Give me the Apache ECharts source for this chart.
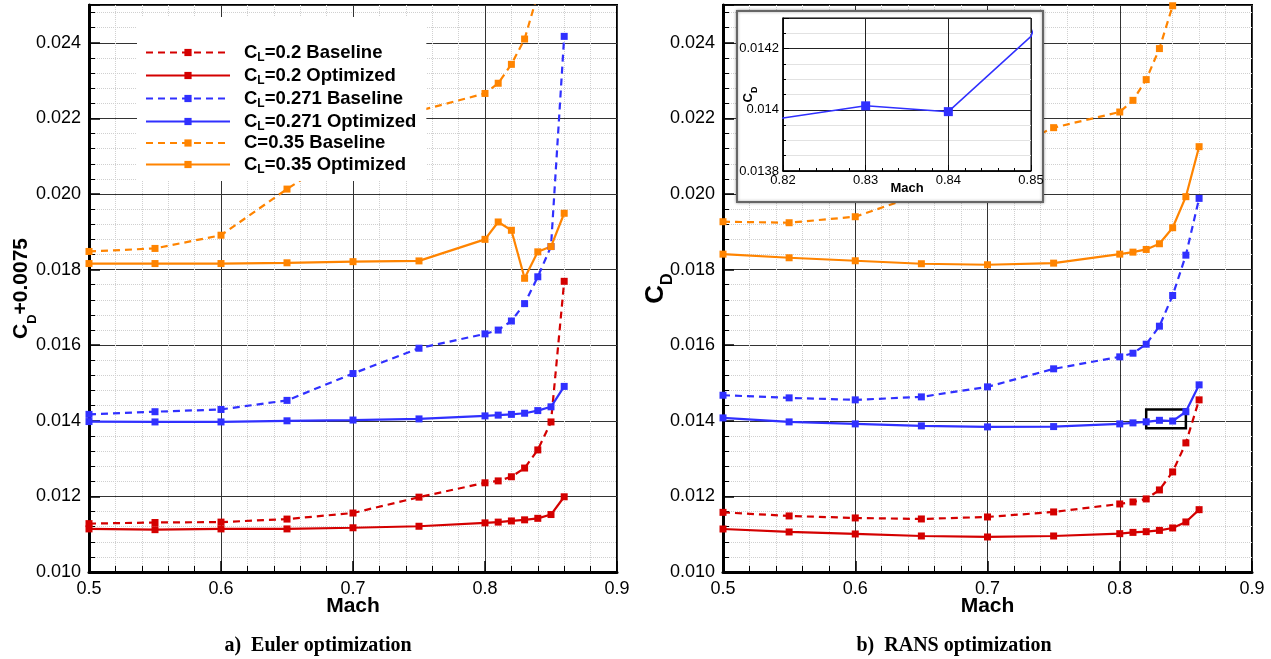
<!DOCTYPE html>
<html>
<head>
<meta charset="utf-8">
<script src="https://cdn.jsdelivr.net/npm/echarts@6/dist/echarts.min.js"></script>
<style>
html, body { margin: 0; padding: 0; background: #fff; }
#chart { width: 1271px; height: 659px; }
</style>
</head>
<body>
<div id="chart"></div>
<script>
// Mach numbers shared by every curve
const mach = [0.5, 0.55, 0.6, 0.65, 0.7, 0.75, 0.8, 0.81, 0.82, 0.83, 0.84, 0.85, 0.86];

// a) Euler optimization (CD + 0.0075)
const eulerCl020Base  = [0.01128, 0.01131, 0.01132, 0.01140, 0.01156, 0.01198, 0.01236, 0.01241, 0.01252, 0.01275, 0.01323, 0.01397, 0.01769];
const eulerCl020Opt   = [0.01114, 0.01112, 0.01114, 0.01114, 0.01117, 0.01121, 0.01130, 0.01132, 0.01135, 0.01138, 0.01142, 0.01152, 0.01199];
const eulerCl0271Base = [0.01417, 0.01424, 0.01430, 0.01454, 0.01525, 0.01592, 0.01630, 0.01640, 0.01664, 0.01710, 0.01781, 0.01861, 0.02417];
const eulerCl0271Opt  = [0.01398, 0.01397, 0.01397, 0.01400, 0.01402, 0.01405, 0.01413, 0.01415, 0.01417, 0.01420, 0.01427, 0.01437, 0.01491];
const eulerCl035Base  = [0.01848, 0.01856, 0.01891, 0.02013, 0.02126, 0.02220, 0.02266, 0.02293, 0.02343, 0.02410, 0.02530, null, null];
const eulerCl035Opt   = [0.01816, 0.01816, 0.01816, 0.01818, 0.01821, 0.01823, 0.01880, 0.01926, 0.01904, 0.01777, 0.01847, 0.01861, 0.01949];

// b) RANS optimization (CD)
const ransCl020Base  = [0.011578, 0.011483, 0.01143, 0.011403, 0.011456, 0.011589, 0.0118, 0.011853, 0.011933, 0.012171, 0.012648, 0.013415, 0.014554];
const ransCl020Opt   = [0.011138, 0.011059, 0.011006, 0.010953, 0.010927, 0.010953, 0.011014, 0.011048, 0.011067, 0.011101, 0.011165, 0.011324, 0.011649];
const ransCl0271Base = [0.014676, 0.014607, 0.014554, 0.014633, 0.014898, 0.015375, 0.015692, 0.015788, 0.016026, 0.016503, 0.017315, 0.018382, 0.019884];
const ransCl0271Opt  = [0.014077, 0.013971, 0.013918, 0.013866, 0.013839, 0.013847, 0.013918, 0.013945, 0.013973, 0.014013, 0.013994, 0.01424, 0.014951];
const ransCl035Base  = [0.019267, 0.01924, 0.019399, 0.0200, 0.02092, 0.021755, 0.022169, 0.022478, 0.023026, 0.023847, 0.02498, null, null];
const ransCl035Opt   = [0.018409, 0.018313, 0.018234, 0.018155, 0.018128, 0.018171, 0.018409, 0.018462, 0.018533, 0.018684, 0.019108, 0.019929, 0.021252];

const seriesNames = ['C_L=0.2 Baseline', 'C_L=0.2 Optimized', 'C_L=0.271 Baseline',
    'C_L=0.271 Optimized', 'C=0.35 Baseline', 'C_L=0.35 Optimized'];

// zoom window shown in the inset
const zoomMach = [0.82, 0.85];
const zoomCd = [0.0138, 0.0143];

const FONT = '"Liberation Sans", Arial, sans-serif';
const RED = '#d40000', BLUE = '#3030ff', ORANGE = '#ff8400';
const seriesColors = [RED, RED, BLUE, BLUE, ORANGE, ORANGE];

function toPairs(vals) {
    return mach.map((m, i) => [m, vals[i]]).filter(p => p[1] != null);
}

function curve(idx, vals, grid) {
    let dashed = idx % 2 === 0;
    return {
        name: seriesNames[idx],
        type: 'line',
        xAxisIndex: grid,
        yAxisIndex: grid,
        data: toPairs(vals),
        symbol: 'rect',
        symbolSize: 7,
        color: seriesColors[idx],
        itemStyle: { color: seriesColors[idx] },
        lineStyle: { width: 2.2, type: dashed ? [7, 5] : 'solid' },
        animation: false,
        z: 2
    };
}

function xMain(gridIndex) {
    return {
        type: 'value', gridIndex: gridIndex,
        min: 0.5, max: 0.9, interval: 0.1,
        name: 'Mach', nameLocation: 'middle', nameGap: 24, nameMoveOverlap: false,
        nameTextStyle: { fontFamily: FONT, fontWeight: 'bold', fontSize: 21, color: '#000' },
        axisLine: { onZero: false, lineStyle: { color: '#000', width: 3 } },
        axisTick: { inside: true, length: 11, lineStyle: { color: '#000', width: 1.5 } },
        minorTick: { show: true, splitNumber: 5, length: 6, lineStyle: { color: '#000', width: 1 } },
        axisLabel: { fontFamily: FONT, fontSize: 18, color: '#000', margin: 8, formatter: v => v.toFixed(1) },
        splitLine: { show: true, lineStyle: { color: '#333', width: 1 } },
        minorSplitLine: { show: true, lineStyle: { color: '#d0d0d0', type: 'dotted', width: 1 } }
    };
}

function yMain(gridIndex, name, fs, subFs, subPad, gap) {
    return {
        type: 'value', gridIndex: gridIndex,
        min: 0.010, max: 0.025, interval: 0.002,
        name: name, nameLocation: 'middle', nameGap: gap, nameMoveOverlap: false,
        nameTextStyle: {
            fontFamily: FONT, fontWeight: 'bold', fontSize: fs, lineHeight: fs + 3, color: '#000',
            rich: { sub: { fontFamily: FONT, fontWeight: 'bold', fontSize: subFs, lineHeight: subFs, padding: [subPad, 0, 0, 0], color: '#000' } }
        },
        axisLine: { onZero: false, lineStyle: { color: '#000', width: 3 } },
        axisTick: { inside: true, length: 11, lineStyle: { color: '#000', width: 1.5 } },
        minorTick: { show: true, splitNumber: 5, length: 6, lineStyle: { color: '#000', width: 1 } },
        axisLabel: { fontFamily: FONT, fontSize: 18, color: '#000', margin: 8, showMaxLabel: false, formatter: v => v.toFixed(3) },
        splitLine: { show: true, lineStyle: { color: '#333', width: 1 } },
        minorSplitLine: { show: true, lineStyle: { color: '#d0d0d0', type: 'dotted', width: 1 } }
    };
}

let chart = echarts.init(document.getElementById('chart'));

let series = [
    curve(0, eulerCl020Base, 0), curve(1, eulerCl020Opt, 0),
    curve(2, eulerCl0271Base, 0), curve(3, eulerCl0271Opt, 0),
    curve(4, eulerCl035Base, 0), curve(5, eulerCl035Opt, 0),
    curve(0, ransCl020Base, 1), curve(1, ransCl020Opt, 1),
    curve(2, ransCl0271Base, 1), curve(3, ransCl0271Opt, 1),
    curve(4, ransCl035Base, 1), curve(5, ransCl035Opt, 1)
];

// box marking the zoomed region on the RANS plot
series[9].markArea = {
    silent: true,
    itemStyle: { color: 'rgba(0,0,0,0)', borderColor: '#000', borderWidth: 2.5 },
    data: [[{ xAxis: zoomMach[0], yAxis: zoomCd[0] }, { xAxis: zoomMach[1], yAxis: zoomCd[1] }]]
};

// inset
series.push({
    name: 'inset',
    type: 'line',
    xAxisIndex: 2, yAxisIndex: 2,
    data: toPairs(ransCl0271Opt),
    symbol: 'rect',
    symbolSize: v => (v[0] > zoomMach[0] + 1e-6 && v[0] < zoomMach[1] - 1e-6) ? 9 : 0,
    color: BLUE,
    itemStyle: { color: BLUE },
    lineStyle: { width: 1.5 },
    animation: false,
    z: 12
});

let option = {
    backgroundColor: '#fff',
    animation: false,
    grid: [
        { left: 89, top: 5, width: 528, height: 567, show: true, borderColor: '#000', borderWidth: 2 },
        { left: 723, top: 5, width: 529, height: 567, show: true, borderColor: '#000', borderWidth: 2 },
        { left: 783, top: 18, width: 248, height: 153, show: true, borderColor: '#000', borderWidth: 1, z: 10 }
    ],
    xAxis: [
        xMain(0), xMain(1),
        {
            type: 'value', gridIndex: 2, z: 10,
            min: zoomMach[0], max: zoomMach[1], interval: 0.01,
            name: 'Mach', nameLocation: 'middle', nameGap: 11, nameMoveOverlap: false,
            nameTextStyle: { fontFamily: FONT, fontWeight: 'bold', fontSize: 13, color: '#000' },
            axisLine: { onZero: false, lineStyle: { color: '#000', width: 1.5 } },
            axisTick: { inside: true, length: 6, lineStyle: { color: '#000' } },
            minorTick: { show: true, splitNumber: 5, length: 3, lineStyle: { color: '#000' } },
            axisLabel: { fontFamily: FONT, fontSize: 13, color: '#000', margin: 3, formatter: v => v.toFixed(2) },
            splitLine: { show: true, lineStyle: { color: '#222', width: 1 } }
        }
    ],
    yAxis: [
        yMain(0, 'C{sub|D}+0.0075', 21, 13, 22, 56),
        yMain(1, 'C{sub|D}', 26, 16, 25, 53),
        {
            type: 'value', gridIndex: 2, z: 10,
            min: zoomCd[0], max: zoomCd[1], interval: 0.0002,
            name: 'C{sub|D}', nameLocation: 'middle', nameGap: 27, nameMoveOverlap: false,
            nameTextStyle: {
                fontFamily: FONT, fontWeight: 'bold', fontSize: 13, lineHeight: 15, color: '#000',
                rich: { sub: { fontFamily: FONT, fontWeight: 'bold', fontSize: 9, lineHeight: 9, padding: [12, 0, 0, 0], color: '#000' } }
            },
            axisLine: { onZero: false, lineStyle: { color: '#000', width: 1.5 } },
            axisTick: { inside: true, length: 6, lineStyle: { color: '#000' } },
            minorTick: { show: true, splitNumber: 4, length: 3, lineStyle: { color: '#000' } },
            axisLabel: { fontFamily: FONT, fontSize: 13, color: '#000', margin: 4, showMaxLabel: false,
                formatter: v => String(+v.toFixed(4)) },
            splitLine: { show: true, lineStyle: { color: '#222', width: 1 } },
            minorSplitLine: { show: true, lineStyle: { color: '#e2e2e2', width: 1 } }
        }
    ],
    legend: {
        data: seriesNames,
        orient: 'vertical',
        left: 137, top: 17,
        backgroundColor: '#fff',
        padding: [24, 10, 5, 8],
        itemWidth: 84, itemHeight: 9, itemGap: 0,
        selectedMode: false,
        z: 6,
        formatter: name => name.replace(/_(\w)/, '{sub|$1}'),
        textStyle: {
            fontFamily: FONT, fontWeight: 'bold', fontSize: 18.5, lineHeight: 20, color: '#000',
            padding: [0, 0, 0, 9],
            rich: { sub: { fontFamily: FONT, fontWeight: 'bold', fontSize: 12, lineHeight: 12, padding: [11, 0, 0, 0], color: '#000' } }
        }
    },
    graphic: [
        {
            type: 'rect', z: 5,
            shape: { x: 737, y: 11, width: 306, height: 191 },
            style: { fill: '#fff', stroke: '#666', lineWidth: 2, shadowBlur: 3, shadowColor: 'rgba(0,0,0,0.35)' }
        },
        {
            type: 'text', x: 318, y: 646,
            style: { text: 'a)  Euler optimization', fill: '#000', align: 'center', verticalAlign: 'middle',
                font: 'bold 20px "Liberation Serif", "Times New Roman", serif' }
        },
        {
            type: 'text', x: 954, y: 646,
            style: { text: 'b)  RANS optimization', fill: '#000', align: 'center', verticalAlign: 'middle',
                font: 'bold 20px "Liberation Serif", "Times New Roman", serif' }
        }
    ],
    series: series
};

chart.setOption(option);
</script>
</body>
</html>
